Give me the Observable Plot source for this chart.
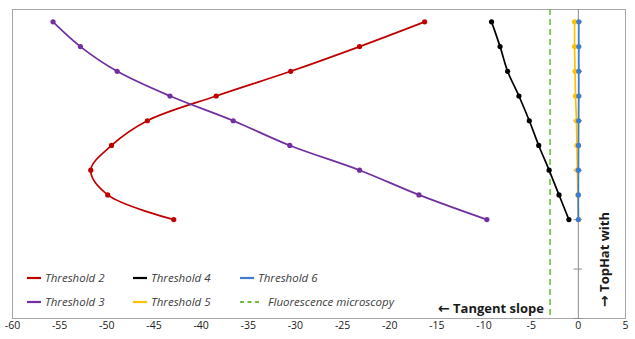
<!DOCTYPE html>
<html>
<head>
<meta charset="utf-8">
<script src="https://cdn.jsdelivr.net/npm/d3@7"></script>
<script src="https://cdn.jsdelivr.net/npm/@observablehq/plot@0.6"></script>
<style>
  html, body { margin: 0; padding: 0; background: #fff; }
  #chart { width: 635px; height: 339px; }
</style>
</head>
<body>
<div id="chart"></div>
<script>
// ---- data ----
const rowIndex = [1, 2, 3, 4, 5, 6, 7, 8, 9];
const threshold2 = [-16.3, -23.2, -30.5, -38.4, -45.7, -49.5, -51.7, -49.9, -42.9];
const threshold3 = [-55.7, -52.8, -48.9, -43.3, -36.6, -30.6, -23.2, -16.9, -9.7];
const threshold4 = [-9.2, -8.3, -7.5, -6.3, -5.2, -4.2, -3.1, -2.05, -1.0];
const threshold5 = [-0.4, -0.4, -0.35, -0.3, -0.2, -0.15, -0.1, -0.05, 0];
const threshold6 = [0.05, 0.05, 0.05, 0.05, 0.03, 0.02, 0.01, 0, 0];
const fluorescence = -3;
const xTicks = [-60, -55, -50, -45, -40, -35, -30, -25, -20, -15, -10, -5, 0, 5];
const yTicks = [1, 3, 5, 7, 9, 11, 13];
const seriesNames = ["Threshold 2", "Threshold 3", "Threshold 4", "Threshold 5", "Threshold 6"];
const seriesValues = [threshold2, threshold3, threshold4, threshold5, threshold6];
const seriesColors = ["#C00000", "#7030A0", "#000000", "#FFC000", "#3D7DD0"];
const fluoName = "Fluorescence microscopy";
const fluoColor = "#72BE3C";

const W = 635, H = 339;
const font = "'Open Sans', 'Liberation Sans', sans-serif";

const rows = [];
seriesNames.forEach((name, i) => {
  seriesValues[i].forEach((v, j) => rows.push({series: name, x: v, y: rowIndex[j]}));
});

const marks = [
  Plot.frame({stroke: "#A6A6A6", strokeWidth: 1}),
  Plot.ruleX([0], {stroke: "#8C8C8C", strokeWidth: 1}),
  Plot.ruleY(yTicks, {x1: -0.45, x2: 0.45, stroke: "#8C8C8C", strokeWidth: 1}),
  Plot.ruleX([fluorescence], {stroke: fluoColor, strokeWidth: 1.6, strokeDasharray: "6,4"})
];
seriesNames.forEach((name, i) => {
  const d = rows.filter(r => r.series === name);
  marks.push(Plot.line(d, {x: "x", y: "y", stroke: seriesColors[i], strokeWidth: 1.7, curve: "catmull-rom"}));
  marks.push(Plot.dot(d, {x: "x", y: "y", fill: seriesColors[i], r: 2.6, stroke: "none"}));
});

const plot = Plot.plot({
  width: W,
  height: H,
  marginLeft: 12,
  marginRight: 10,
  marginTop: 9,
  marginBottom: 21,
  style: {fontFamily: font, background: "#fff", overflow: "visible"},
  x: {domain: [-60, 5], ticks: xTicks, tickFormat: d => String(d), tickSize: 0, tickPadding: 3, label: null},
  y: {domain: [13, 0.5], axis: null},
  marks: [
    ...marks,
    Plot.axisX({ticks: xTicks, tickFormat: d => String(d), tickSize: 0, tickPadding: 3, fontSize: 10.5, fill: "#222", label: null})
  ]
});
document.getElementById("chart").appendChild(plot);

// ---- legend & annotations ----
const svg = d3.select(plot);
const legend = svg.append("g").attr("font-family", font).attr("font-style", "italic")
  .attr("font-size", 11.5).attr("fill", "#404040").attr("text-anchor", "start");
const legendItems = [
  {name: seriesNames[0], color: seriesColors[0], col: 0, row: 0},
  {name: seriesNames[1], color: seriesColors[1], col: 0, row: 1},
  {name: seriesNames[2], color: seriesColors[2], col: 1, row: 0},
  {name: seriesNames[3], color: seriesColors[3], col: 1, row: 1},
  {name: seriesNames[4], color: seriesColors[4], col: 2, row: 0},
  {name: fluoName, color: fluoColor, col: 2, row: 1, dashed: true}
];
const colX = [27, 133, 240];
const rowY = [278, 302];
legendItems.forEach(it => {
  const x0 = colX[it.col], y0 = rowY[it.row];
  const len = it.dashed ? 22 : 14;
  legend.append("line").attr("x1", x0).attr("x2", x0 + len).attr("y1", y0).attr("y2", y0)
    .attr("stroke", it.color).attr("stroke-width", 2.2)
    .attr("stroke-dasharray", it.dashed ? "4,3.5" : null);
  legend.append("text").attr("x", x0 + len + (it.dashed ? 6 : 4)).attr("y", y0).attr("dy", "0.35em")
    .attr("text-anchor", "start").text(it.name);
});

const arrowFont = "'DejaVu Sans', sans-serif";
const t1 = svg.append("text").attr("x", 544).attr("y", 308).attr("dy", "0.35em")
  .attr("text-anchor", "end").attr("font-family", font).attr("font-weight", "bold")
  .attr("font-size", 13).attr("fill", "#1a1a1a");
t1.append("tspan").attr("font-family", arrowFont).attr("font-weight", "bold").attr("font-size", 14).text("←");
t1.append("tspan").text(" Tangent slope");

const t2 = svg.append("text").attr("transform", "translate(604,307) rotate(-90)").attr("dy", "0.35em")
  .attr("text-anchor", "start").attr("font-family", font).attr("font-weight", "bold")
  .attr("font-size", 13).attr("fill", "#1a1a1a");
t2.append("tspan").attr("font-family", arrowFont).attr("font-weight", "bold").attr("font-size", 14).text("→");
t2.append("tspan").text(" TopHat with");
</script>
</body>
</html>
